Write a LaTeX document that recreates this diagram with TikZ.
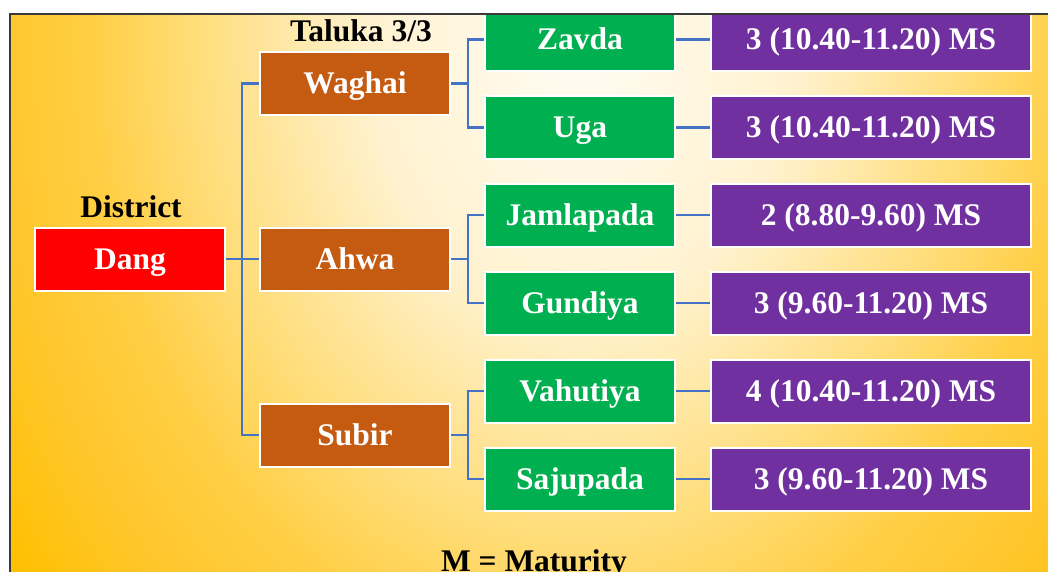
\documentclass[tikz,border=0pt]{standalone}
\usepackage{fontspec}
\setmainfont{Liberation Serif}
\definecolor{bg0}{HTML}{FFFCF4}
\definecolor{bg1}{HTML}{FFF2D0}
\definecolor{bg2}{HTML}{FFDD7A}
\definecolor{bg3}{HTML}{FFCE44}
\definecolor{bg4}{HTML}{FFC62A}
\definecolor{bg5}{HTML}{FFC000}
\definecolor{cred}{HTML}{FF0000}
\definecolor{cbrown}{HTML}{C55A11}
\definecolor{cgreen}{HTML}{00B050}
\definecolor{cpurple}{HTML}{7030A0}
\definecolor{cline}{HTML}{4472C4}
\definecolor{cframe}{HTML}{3A3A3A}
\pgfdeclareradialshading{bgrad}{\pgfpoint{0bp}{0bp}}{color(0bp)=(bg0); color(7.5bp)=(bg1); color(13.75bp)=(bg2); color(17.5bp)=(bg3); color(21.25bp)=(bg4); color(25bp)=(bg5); color(50bp)=(bg5)}
\newcommand{\bigfont}{\fontsize{31.5pt}{37pt}\selectfont\bfseries}
\begin{document}
\begin{tikzpicture}[x=1pt,y=-1pt,
  box/.style={draw=white, line width=2pt, text=white, font=\bigfont,
    minimum width=190pt, minimum height=63pt, inner sep=0pt,
    text height=20.8pt, text depth=0pt, anchor=center},
  distbox/.style={box, fill=cred},
  talbox/.style={box, fill=cbrown},
  vilbox/.style={box, fill=cgreen},
  msbox/.style={box, fill=cpurple, minimum width=320pt},
  lab/.style={font=\bigfont, text=black, inner sep=0pt, anchor=base},
  conn/.style={draw=cline, line width=2.3pt}]
\useasboundingbox (0,0) rectangle (1048,572);
\fill[white] (0,0) rectangle (1048,572);
\begin{scope}
\clip (10,14) rectangle (1048,572);
\fill[bg5] (10,14) rectangle (1048,572);
\shade[shading=bgrad] (580,40) ellipse [x radius=700pt, y radius=900pt];
% villages
\node[vilbox] (zavda) at (580,39.5) {Zavda};
\node[vilbox] (uga) at (580,127.4) {Uga};
\node[vilbox] (jamla) at (580,215.3) {Jamlapada};
\node[vilbox] (gundiya) at (580,303.2) {Gundiya};
\node[vilbox] (vahutiya) at (580,391.1) {Vahutiya};
\node[vilbox] (sajupada) at (580,479) {Sajupada};
% maturity
\node[msbox] (ms1) at (871,39.5) {3 (10.40-11.20) MS};
\node[msbox] (ms2) at (871,127.4) {3 (10.40-11.20) MS};
\node[msbox] (ms3) at (871,215.3) {2 (8.80-9.60) MS};
\node[msbox] (ms4) at (871,303.2) {3 (9.60-11.20) MS};
\node[msbox] (ms5) at (871,391.1) {4 (10.40-11.20) MS};
\node[msbox] (ms6) at (871,479) {3 (9.60-11.20) MS};
% talukas
\node[talbox] (waghai) at (355,83.45) {Waghai};
\node[talbox] (ahwa) at (355,259.25) {Ahwa};
\node[talbox] (subir) at (355,435.05) {Subir};
% district
\node[distbox] (dang) at (130,259.25) {Dang};
% labels
\node[lab] (district) at (131,217) {District};
\node[lab] (taluka) at (361,42) {Taluka 3/3};
\node[lab] (maturity) at (534,571) {M = Maturity};
% bus coordinates
\coordinate (dbus) at (242,259.25);
\coordinate (wbus) at (468,83.45);
\coordinate (abus) at (468,259.25);
\coordinate (sbus) at (468,435.05);
% connectors
\draw[conn] (dang.east) -- (ahwa.west);
\draw[conn] (waghai.west) -| (dbus) |- (subir.west);
\draw[conn] (waghai.east) -- (wbus);
\draw[conn] (zavda.west) -| (wbus) |- (uga.west);
\draw[conn] (ahwa.east) -- (abus);
\draw[conn] (jamla.west) -| (abus) |- (gundiya.west);
\draw[conn] (subir.east) -- (sbus);
\draw[conn] (vahutiya.west) -| (sbus) |- (sajupada.west);
\draw[conn] (zavda.east) -- (ms1.west);
\draw[conn] (uga.east) -- (ms2.west);
\draw[conn] (jamla.east) -- (ms3.west);
\draw[conn] (gundiya.east) -- (ms4.west);
\draw[conn] (vahutiya.east) -- (ms5.west);
\draw[conn] (sajupada.east) -- (ms6.west);
\end{scope}
\draw[cframe, line width=1.3pt] (10,572) -- (10,14) -- (1048,14);
\end{tikzpicture}
\end{document}
